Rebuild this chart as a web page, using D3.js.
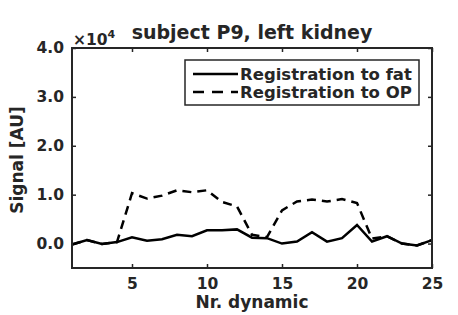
<!DOCTYPE html>
<html>
<head>
<meta charset="utf-8">
<script src="https://cdn.jsdelivr.net/npm/d3@7"></script>
<style>
  body { margin: 0; background: #fff; }
  text { font-family: "DejaVu Sans", sans-serif; font-weight: bold; fill: #262626; }
</style>
</head>
<body>
<svg id="chart" width="458" height="315"></svg>
<script>
// data (signal in units of 1e4)
const dynamics = d3.range(1, 26)
const fatSignal = [-0.02, 0.07, -0.01, 0.03, 0.13, 0.06, 0.09, 0.18, 0.15, 0.27, 0.27, 0.29, 0.12, 0.11, 0.0,
  0.04, 0.23, 0.04, 0.11, 0.38, 0.04, 0.15, 0.0, -0.04, 0.07]
const opSignal = [-0.02, 0.07, -0.01, 0.03, 1.03, 0.92, 0.98, 1.09, 1.05, 1.09, 0.85, 0.76, 0.18, 0.13, 0.68,
  0.86, 0.9, 0.86, 0.91, 0.83, 0.1, 0.15, 0.0, -0.04, 0.07]
const yTicks = [0, 1, 2, 3, 4]
const xTicks = [5, 10, 15, 20, 25]
const seriesNames = ['Registration to fat', 'Registration to OP']

const margin = { top: 48, right: 26, bottom: 47, left: 72 }
const svg = d3.select('#chart')
const width = 458 - margin.left - margin.right
const height = 315 - margin.top - margin.bottom
const axisColor = '#262626'

const x = d3.scaleLinear().domain([1, 25]).range([0, width])
const y = d3.scaleLinear().domain([-0.5, 4]).range([height, 0])

const g = svg.append('g').attr('transform', `translate(${margin.left},${margin.top})`)

// axes: ticks point inwards, box on
const tickLen = 4
g.append('g').attr('transform', `translate(0,${height})`)
  .call(d3.axisBottom(x).tickValues(xTicks).tickSize(-tickLen).tickPadding(10).tickSizeOuter(0))
g.append('g')
  .call(d3.axisTop(x).tickValues(xTicks).tickSize(-tickLen).tickFormat('').tickSizeOuter(0))
g.append('g')
  .call(d3.axisLeft(y).tickValues(yTicks).tickSize(-tickLen).tickPadding(8).tickFormat(d3.format('.1f')).tickSizeOuter(0))
g.append('g').attr('transform', `translate(${width},0)`)
  .call(d3.axisRight(y).tickValues(yTicks).tickSize(-tickLen).tickFormat('').tickSizeOuter(0))

g.selectAll('.domain').remove()
g.selectAll('.tick line').attr('stroke', axisColor).attr('stroke-width', 1.5)
g.selectAll('.tick text').style('font-size', '15.5px').style('fill', axisColor)
  .style('font-family', '"DejaVu Sans", sans-serif').style('font-weight', 'bold')

// lines
const line = d3.line().x((d, i) => x(dynamics[i])).y(d => y(d))

g.append('path').datum(opSignal)
  .attr('fill', 'none').attr('stroke', '#000').attr('stroke-width', 2.5)
  .attr('stroke-dasharray', '9,6')
  .attr('d', line)

g.append('path').datum(fatSignal)
  .attr('fill', 'none').attr('stroke', '#000').attr('stroke-width', 2.5)
  .attr('d', line)

// box
g.append('rect').attr('width', width).attr('height', height)
  .attr('fill', 'none').attr('stroke', axisColor).attr('stroke-width', 2)

// exponent
const expo = svg.append('text').attr('x', margin.left + 1).attr('y', 45).style('font-size', '15.5px')
expo.append('tspan').text('×10')
expo.append('tspan').text('4').attr('dy', -7).style('font-size', '11px')

// title
svg.append('text').attr('x', 252).attr('y', 39).attr('text-anchor', 'middle')
  .style('font-size', '19px').text('subject P9, left kidney')

// axis labels
svg.append('text').attr('x', 252).attr('y', 308).attr('text-anchor', 'middle')
  .style('font-size', '17px').text('Nr. dynamic')
svg.append('text').attr('transform', 'translate(23,160) rotate(-90)')
  .attr('text-anchor', 'middle').style('font-size', '17px').text('Signal [AU]')

// legend
const legend = svg.append('g').attr('transform', 'translate(185,60)')
legend.append('rect').attr('width', 234).attr('height', 45)
  .attr('fill', '#fff').attr('stroke', axisColor).attr('stroke-width', 1.5)
seriesNames.forEach((name, i) => {
  const ly = 14 + i * 18
  legend.append('line').attr('x1', 8).attr('x2', 53).attr('y1', ly).attr('y2', ly)
    .attr('stroke', '#000').attr('stroke-width', 2.5)
    .attr('stroke-dasharray', i === 1 ? '11,8' : null)
  legend.append('text').attr('x', 55).attr('y', ly + 6).style('font-size', '16.5px').text(name)
})
</script>
</body>
</html>
